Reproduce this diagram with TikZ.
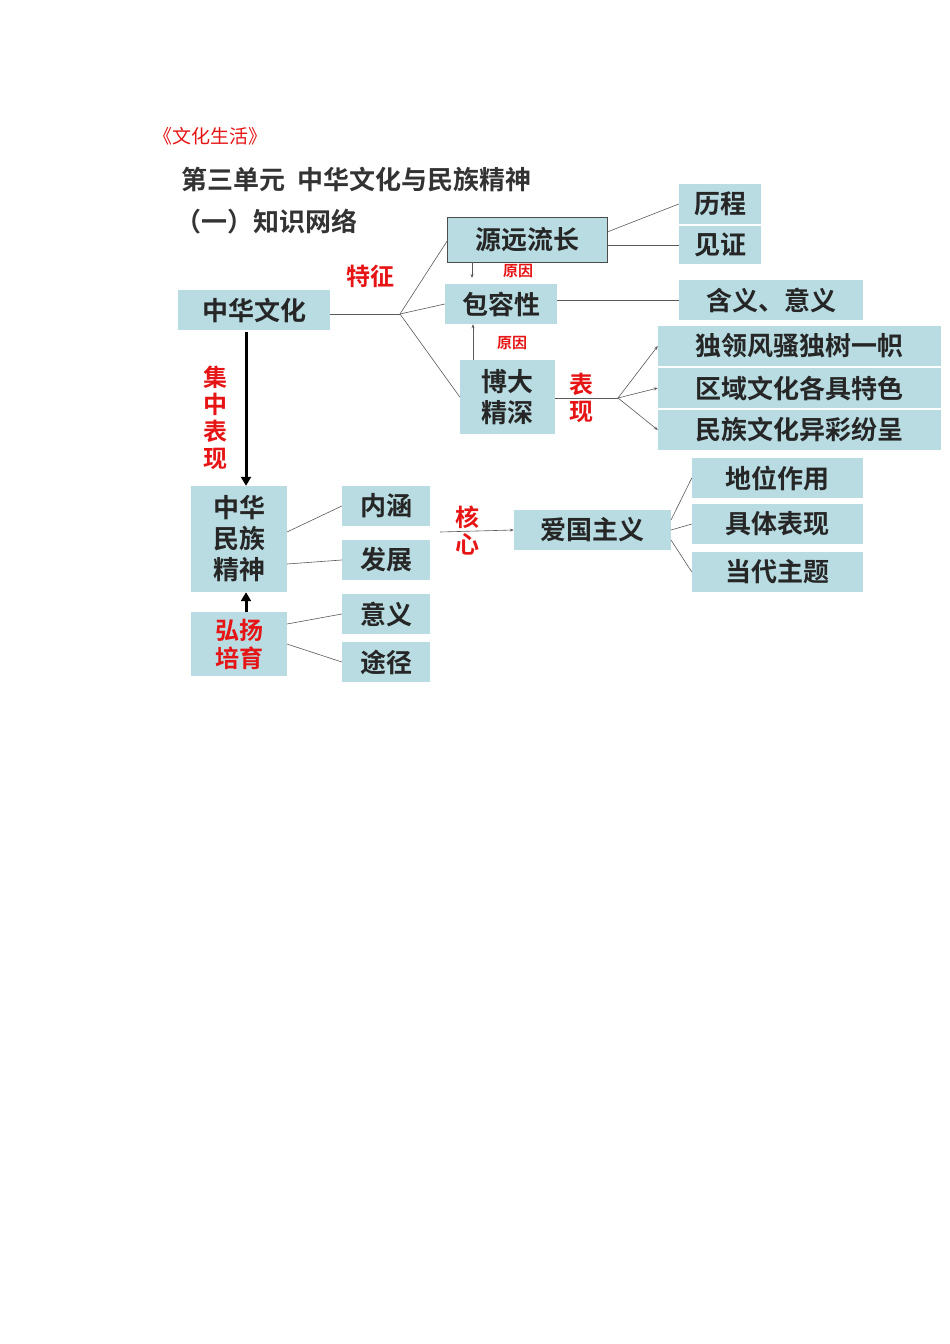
\documentclass[tikz,border=0pt]{standalone}
\usepackage{fontspec}
\setmainfont{Noto Sans CJK SC}
\newfontfamily\cjkb{Noto Sans CJK SC Bold}
\usetikzlibrary{arrows.meta}
\definecolor{bx}{RGB}{184,220,226}
\definecolor{rd}{RGB}{230,20,20}
\begin{document}
\begin{tikzpicture}[x=1pt,y=-1pt,
 bx/.style={fill=bx,inner sep=0pt,font=\cjkb\fontsize{26}{31}\selectfont,align=center,text=black!85},
 ln/.style={draw=gray!70!black,line width=0.6pt},
 ar/.style={ln,-{Stealth[length=4pt]}},
 thk/.style={line width=3pt,-{Triangle[length=9pt,width=10pt]}},
 lab/.style={text=rd,font=\cjkb\fontsize{24}{27}\selectfont,inner sep=0pt},
 slab/.style={text=rd,font=\cjkb\fontsize{15}{16}\selectfont,inner sep=0pt}]
\path[use as bounding box] (0,0) rectangle (950,1344);
\newcommand\bxn[6]{\node[bx,minimum width=#3-#2,minimum height=#5-#4] (#1) at ({(#2+#3)/2},{(#4+#5)/2}) {#6};}
\node[text=rd,font=\fontsize{19}{20}\selectfont,anchor=west] (t0) at (150,136) {《文化生活》};
\node[font=\cjkb\fontsize{26}{28}\selectfont,anchor=west,text=black!80] (t1) at (178,180) {第三单元\ \ 中华文化与民族精神};
\node[font=\cjkb\fontsize{26}{28}\selectfont,anchor=west,text=black!80] (t2) at (172,222) {（一）知识网络};
\bxn{zh}{178}{330}{290}{330}{中华文化}
\bxn{yy}{448}{607}{218}{262}{源远流长}
\draw[gray!60!black,line width=1pt] (yy.north west) rectangle (yy.south east);
\bxn{lc}{679}{761}{184}{224}{历程}
\bxn{jz}{679}{761}{226}{264}{见证}
\bxn{br}{445}{557}{284}{324}{包容性}
\bxn{hy}{679}{863}{280}{320}{含义、意义}
\bxn{bd}{460}{555}{360}{434}{博大\\精深}
\bxn{d1}{658}{941}{326}{366}{独领风骚独树一帜}
\bxn{d2}{658}{941}{368}{408}{区域文化各具特色}
\bxn{d3}{658}{941}{410}{450}{民族文化异彩纷呈}
\bxn{mz}{191}{287}{486}{592}{中华\\民族\\精神}
\bxn{nh}{342}{430}{486}{526}{内涵}
\bxn{fz}{342}{430}{540}{580}{发展}
\bxn{yi}{342}{430}{594}{634}{意义}
\bxn{tj}{342}{430}{642}{682}{途径}
\node[bx,minimum width=96,minimum height=64,text=rd,font=\cjkb\fontsize{24}{28}\selectfont] (hp) at (239,644) {弘扬\\培育};
\bxn{ag}{514}{671}{510}{550}{爱国主义}
\bxn{dw}{692}{863}{458}{498}{地位作用}
\bxn{jt}{692}{863}{504}{544}{具体表现}
\bxn{dd}{692}{863}{552}{592}{当代主题}
\coordinate (b1) at (400,314);
\coordinate (b2) at (618,398);
\coordinate (hx) at (440,532);
\draw[ln] (zh.east|-b1) -- (b1);
\draw[ln] (b1) -- (yy.west); \draw[ln] (b1) -- (br.west); \draw[ln] (b1) -- (bd.west);
\draw[ln] (yy.east) ++(0,-8) -- (lc.west); \draw[ln] (yy.east|-jz.west) -- (jz.west);
\draw[ln] (br.east|-hy.west) -- (hy.west);
\draw[ar] (472,262) -- (472,278);
\draw[ar] (bd.north-|473,0) -- (br.south-|473,0);
\node[slab] (r1) at (518,271) {原因};
\node[slab] (r2) at (512,343) {原因};
\node[lab] (tz) at (370,276) {特征};
\draw[ln] (bd.east|-b2) -- (b2);
\draw[ar] (b2) -- (d1.west); \draw[ar] (b2) -- (d2.west); \draw[ar] (b2) -- (d3.west);
\node[lab,align=center] (bx1) at (581,398) {表\\现};
\node[lab,align=center] (jx) at (215,418) {集\\中\\表\\现};
\draw[thk] (246,332) -- (mz.north-|246,0);
\draw[thk] (hp.north-|246,0) -- (mz.south-|246,0);
\draw[ln] (287,532) -- (nh.west); \draw[ln] (287,564) -- (fz.west);
\draw[ln] (287,624) -- (yi.west); \draw[ln] (287,644) -- (tj.west);
\node[lab,align=center] (hx1) at (467,531) {核\\心};
\draw[ar] (hx) -- (ag.west);
\draw[ln] (671,520) -- (dw.west); \draw[ln] (671,530) -- (jt.west); \draw[ln] (671,540) -- (dd.west);
\end{tikzpicture}
\end{document}
